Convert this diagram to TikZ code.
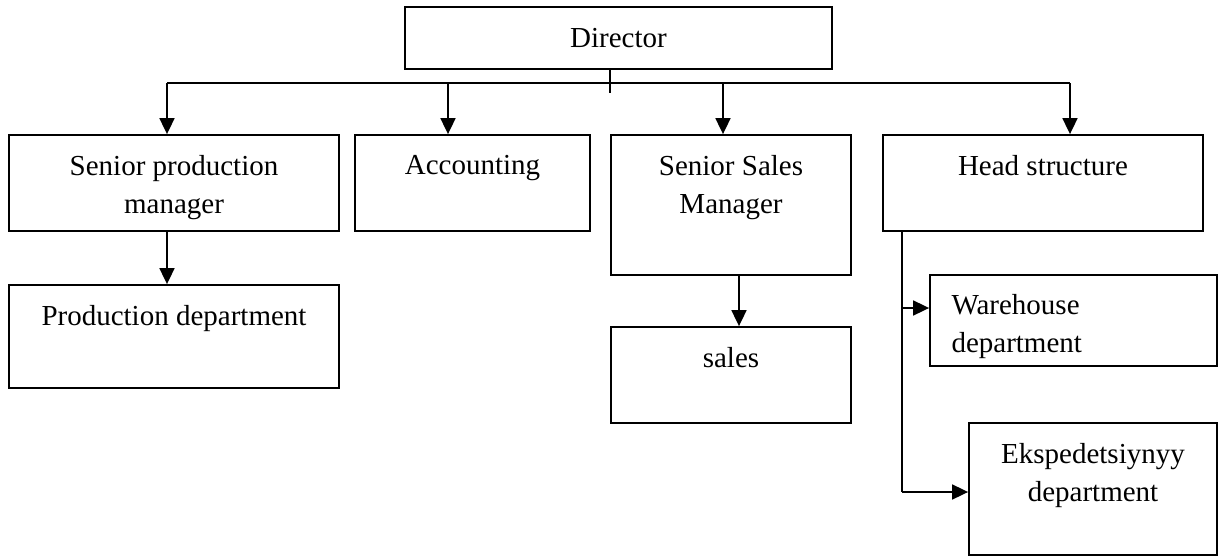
\documentclass[tikz,border=0pt]{standalone}
\usepackage{fontspec}
\setmainfont{Liberation Serif}
\usetikzlibrary{arrows.meta}
\begin{document}
\begin{tikzpicture}[x=0.5pt, y=-0.5pt,
  box/.style={draw, line width=0.9pt, inner sep=0pt},
  txt/.style={inner sep=0pt, align=center, font=\fontsize{14.5pt}{19pt}\selectfont},
  conn/.style={line width=0.9pt},
  arr/.style={conn, -{Triangle[length=8pt,width=7.5pt]}}]
\useasboundingbox (0,0) rectangle (1223,557);
% boxes
\node[box, txt, minimum width=213.5pt, minimum height=31pt] (dir) at (618.5,38) {Director};
\node[box, minimum width=165pt, minimum height=48pt,
  label={[txt,name=spmT,anchor=north,yshift=-10.5pt]north:{Senior production\\manager}}] (spm) at (174,183) {};
\node[box, minimum width=117.5pt, minimum height=48pt,
  label={[txt,name=accT,anchor=north,yshift=-10.5pt]north:{Accounting}}] (acc) at (472.5,183) {};
\node[box, minimum width=120pt, minimum height=70pt,
  label={[txt,name=ssmT,anchor=north,yshift=-10.5pt]north:{Senior Sales\\Manager}}] (ssm) at (731,205) {};
\node[box, minimum width=160pt, minimum height=48pt,
  label={[txt,name=headT,anchor=north,yshift=-10.5pt]north:{Head structure}}] (head) at (1043,183) {};
\node[box, minimum width=165pt, minimum height=51.5pt,
  label={[txt,name=prodT,anchor=north,yshift=-10.5pt]north:{Production department}}] (prod) at (174,336.5) {};
\node[box, minimum width=120pt, minimum height=48pt,
  label={[txt,name=salesT,anchor=north,yshift=-10.5pt]north:{sales}}] (sales) at (731,375) {};
\node[box, minimum width=143.5pt, minimum height=45.5pt,
  label={[txt,name=wareT,align=left,anchor=north west,xshift=11pt,yshift=-10pt]north west:{Warehouse\\department}}] (ware) at (1073.5,320.5) {};
\node[box, minimum width=124pt, minimum height=66pt,
  label={[txt,name=ekspT,anchor=north,yshift=-10.5pt]north:{Ekspedetsiynyy\\department}}] (eksp) at (1093,489) {};
% reference coordinates
\coordinate (stub) at (610,93);
\coordinate (barL) at (167,83);
\coordinate (barR) at (1070,83);
\coordinate (b2) at (448,83);
\coordinate (b3) at (723,83);
\coordinate (sx) at (739,0);
\coordinate (hx) at (902,0);
\coordinate (wy) at (902,308);
\coordinate (ey) at (902,492);
% connectors
\draw[conn] (dir.south -| stub) -- (stub);
\draw[conn] (barL) -- (barR);
\draw[arr] (barL) -- (barL |- spm.north);
\draw[arr] (b2) -- (b2 |- acc.north);
\draw[arr] (b3) -- (b3 |- ssm.north);
\draw[arr] (barR) -- (barR |- head.north);
\draw[arr] (spm.south -| barL) -- (prod.north -| barL);
\draw[arr] (ssm.south -| sx) -- (sales.north -| sx);
\draw[conn] (head.south -| hx) -- (ey);
\draw[arr] (wy) -- (wy -| ware.west);
\draw[arr] (ey) -- (ey -| eksp.west);
\end{tikzpicture}
\end{document}
